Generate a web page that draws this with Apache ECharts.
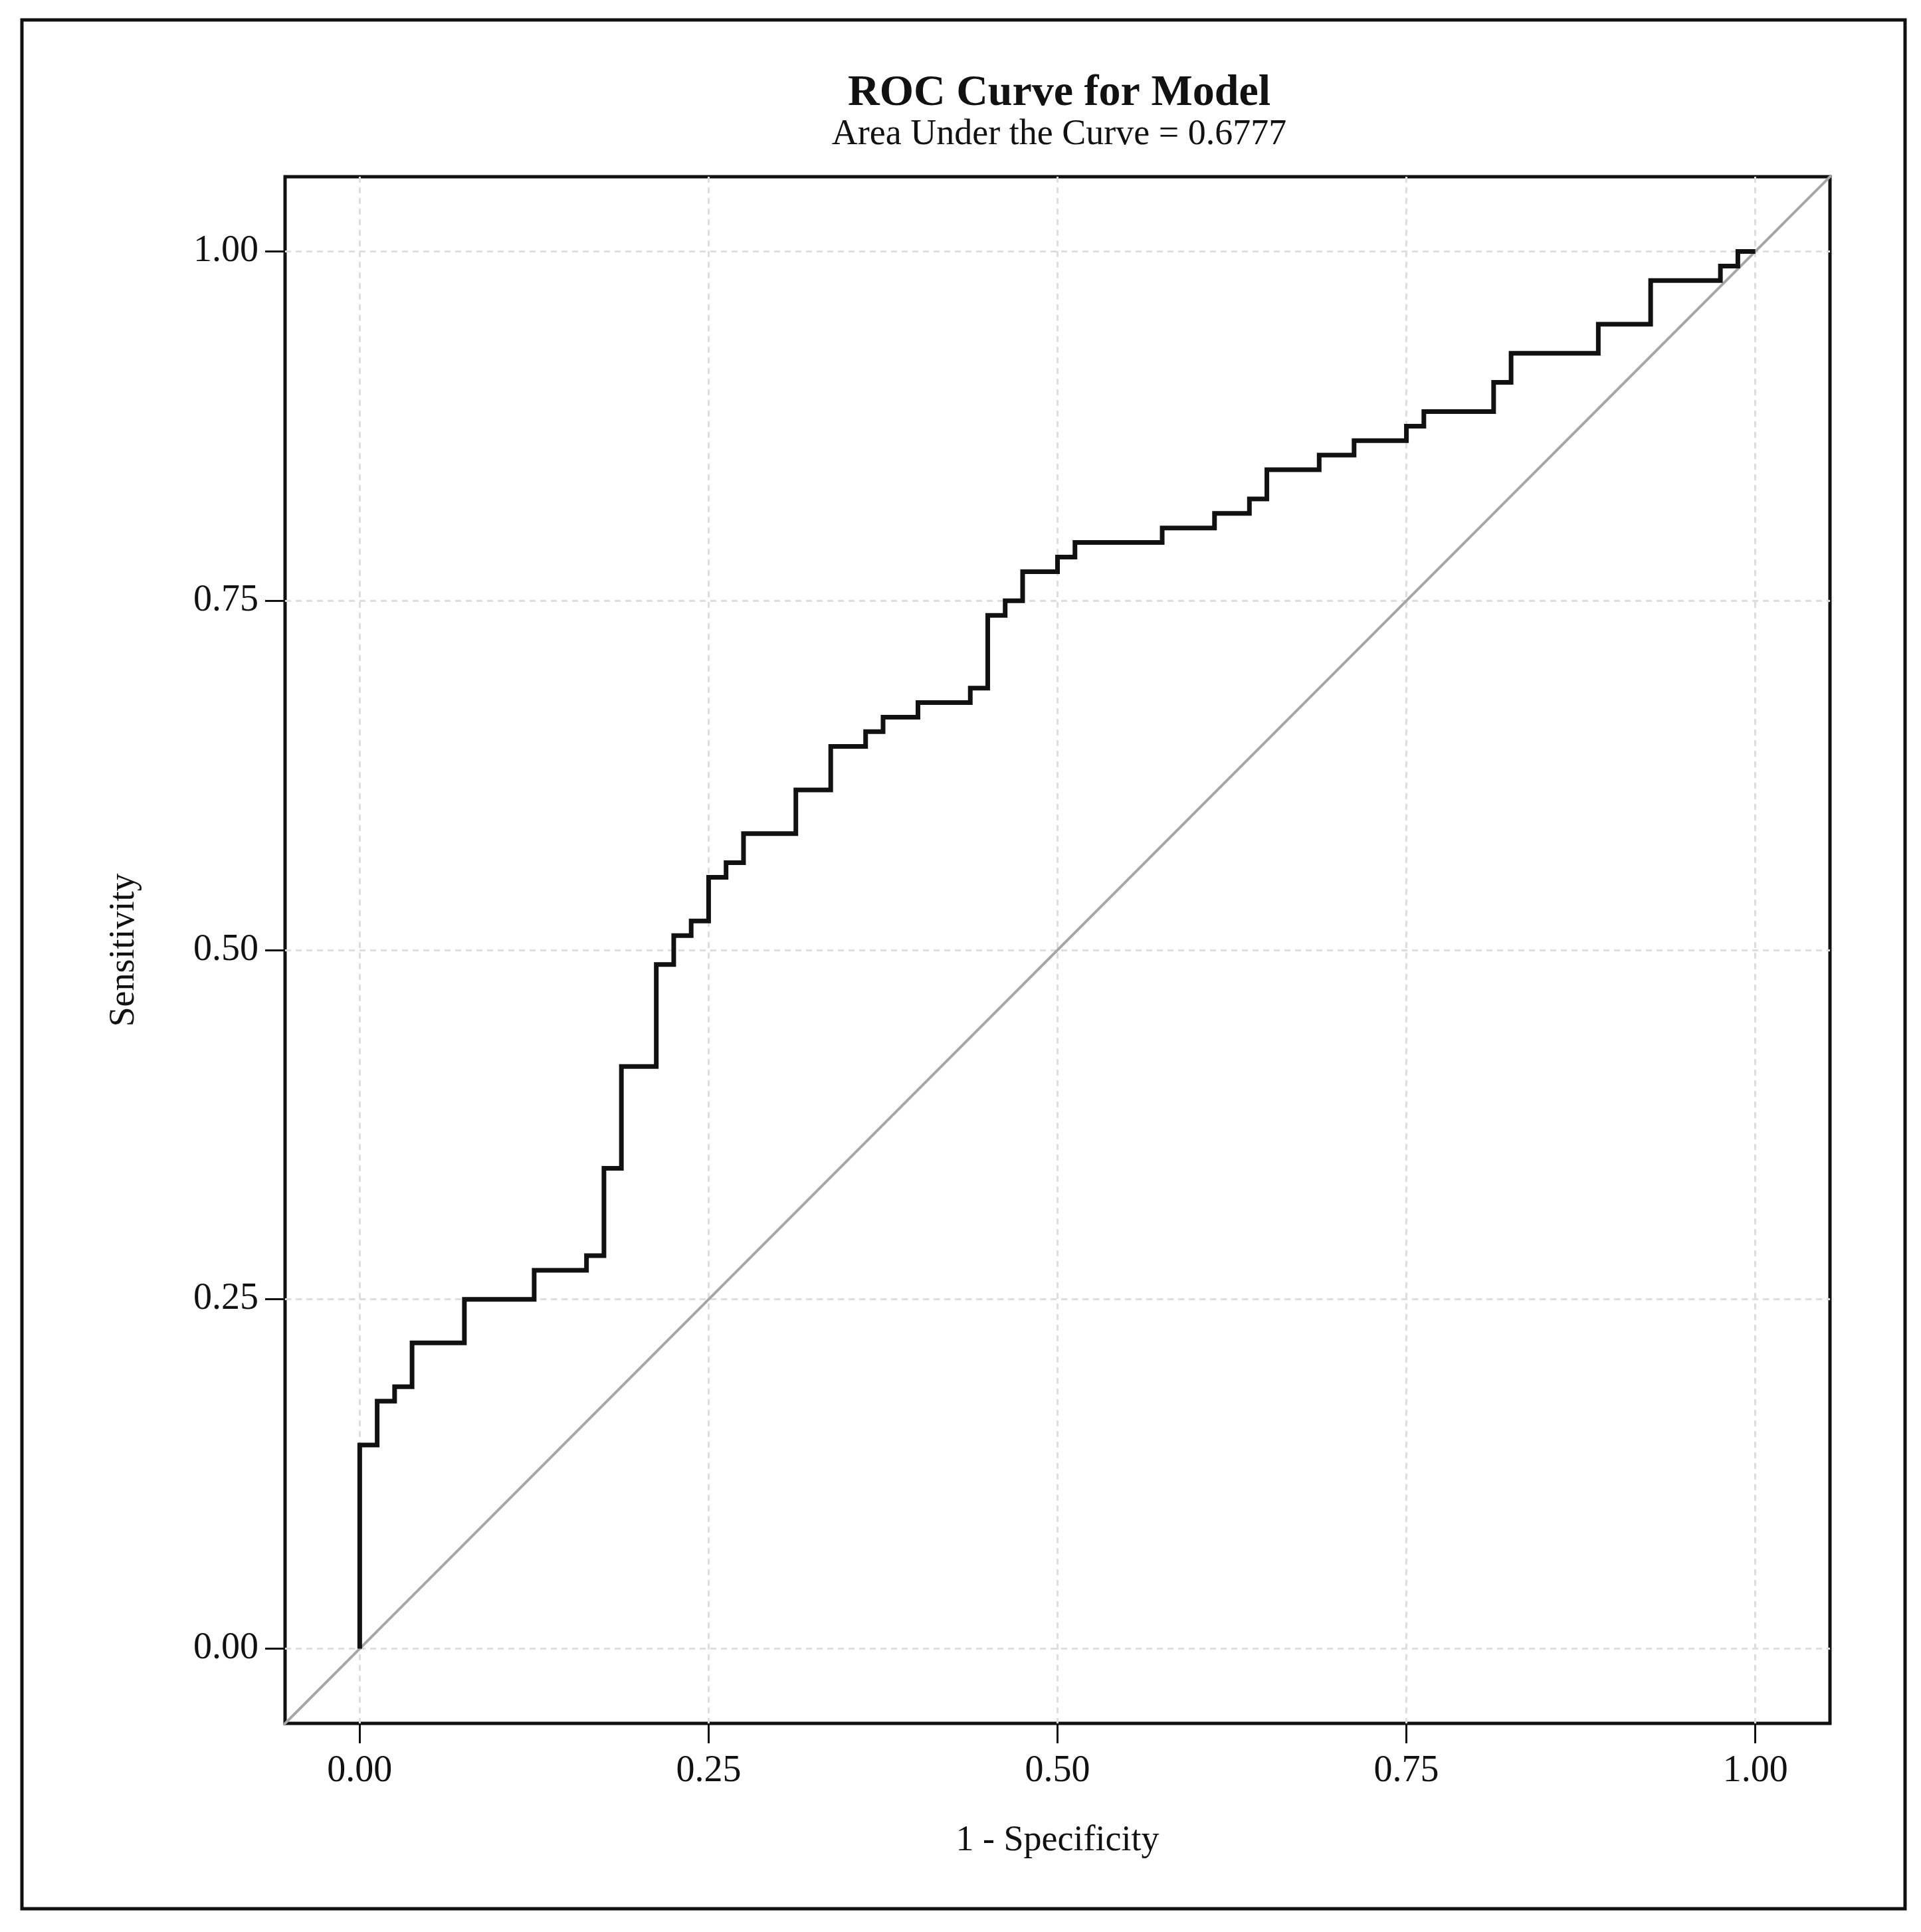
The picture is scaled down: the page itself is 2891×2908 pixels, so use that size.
<!DOCTYPE html>
<html>
<head>
<meta charset="utf-8">
<script src="https://cdn.jsdelivr.net/npm/echarts@6/dist/echarts.min.js"></script>
<style>html,body{margin:0;padding:0;background:#fff}#c{width:2891px;height:2908px}</style>
</head>
<body>
<div id="c"></div>
<script>
// ROC step points: false positive rate where the curve rises, and sensitivity after the rise
const fprSteps = [0, 0.0125, 0.025, 0.0375, 0.075, 0.125, 0.1625, 0.175, 0.1875, 0.2125,
  0.225, 0.2375, 0.25, 0.2625, 0.275, 0.3125, 0.3375, 0.3625, 0.375, 0.4,
  0.4375, 0.45, 0.4625, 0.475, 0.5, 0.5125, 0.575, 0.6125, 0.6375, 0.65,
  0.6875, 0.7125, 0.75, 0.7625, 0.8125, 0.825, 0.8875, 0.925, 0.975, 0.9875];
const tprSteps = [0.1458, 0.1771, 0.1875, 0.2188, 0.25, 0.2708, 0.2813, 0.3438, 0.4167, 0.4896,
  0.5104, 0.5208, 0.5521, 0.5625, 0.5833, 0.6146, 0.6458, 0.6563, 0.6667, 0.6771,
  0.6875, 0.7396, 0.75, 0.7708, 0.7813, 0.7917, 0.8021, 0.8125, 0.8229, 0.8438,
  0.8542, 0.8646, 0.875, 0.8854, 0.9063, 0.9271, 0.9479, 0.9792, 0.9896, 1.0];
const rocStart = [0, 0];
const rocEnd = [1, 1];
const refLine = [[-0.06, -0.06], [1.06, 1.06]];
const tickValues = [0, 0.25, 0.5, 0.75, 1];
const titleText = 'ROC Curve for Model';
const subtitleText = 'Area Under the Curve = 0.6777';
const xName = '1 - Specificity';
const yName = 'Sensitivity';

// build step vertices
const curve = [rocStart.slice()];
let prevY = rocStart[1];
for (let i = 0; i < fprSteps.length; i++) {
  curve.push([fprSteps[i], prevY]);
  curve.push([fprSteps[i], tprSteps[i]]);
  prevY = tprSteps[i];
}
curve.push([rocEnd[0], prevY]);
curve.push(rocEnd.slice());

const FONT = '"Liberation Serif", "DejaVu Serif", serif';
const chart = echarts.init(document.getElementById('c'), null, {renderer: 'canvas'});

const axisCommon = {
  type: 'value', min: -0.0535, max: 1.0535,
  axisLine: {show: false, onZero: false},
  axisTick: {show: true, length: 30, lineStyle: {color: '#111', width: 3}, customValues: tickValues},
  axisLabel: {show: true, customValues: tickValues, fontFamily: FONT, fontSize: 56, color: '#111',
    formatter: v => v.toFixed(2)},
  splitLine: {show: true, lineStyle: {color: '#dedede', width: 3, type: [9, 7]}},
  nameLocation: 'middle',
  nameTextStyle: {fontFamily: FONT, fontSize: 54, color: '#111'}
};

chart.setOption({
  backgroundColor: '#fff',
  animation: false,
  graphic: [
    {type: 'rect', shape: {x: 33, y: 30, width: 2834, height: 2843},
     style: {fill: 'none', stroke: '#111', lineWidth: 5}, z: 100},
    {type: 'text', x: 1594, y: 108, style: {text: titleText, fontFamily: FONT, fontSize: 66,
      fontWeight: 'bold', fill: '#111', textAlign: 'center', textVerticalAlign: 'top'}},
    {type: 'text', x: 1594, y: 176, style: {text: subtitleText, fontFamily: FONT, fontSize: 54,
      fill: '#111', textAlign: 'center', textVerticalAlign: 'top'}}
  ],
  grid: {left: 429, top: 266, width: 2325, height: 2328, show: true,
    borderColor: '#111', borderWidth: 5, backgroundColor: 'transparent', containLabel: false},
  xAxis: Object.assign({}, axisCommon, {name: xName, nameGap: 150,
    axisLabel: Object.assign({}, axisCommon.axisLabel, {margin: 44})}),
  yAxis: Object.assign({}, axisCommon, {name: yName, nameGap: 215,
    axisLabel: Object.assign({}, axisCommon.axisLabel, {margin: 40})}),
  series: [
    {type: 'line', data: refLine, symbol: 'none', silent: true,
     lineStyle: {color: '#a6a6a6', width: 4}, z: 2},
    {type: 'line', data: curve, symbol: 'none', silent: true,
     lineStyle: {color: '#111', width: 7, join: 'miter'}, z: 3}
  ]
});
</script>
</body>
</html>
